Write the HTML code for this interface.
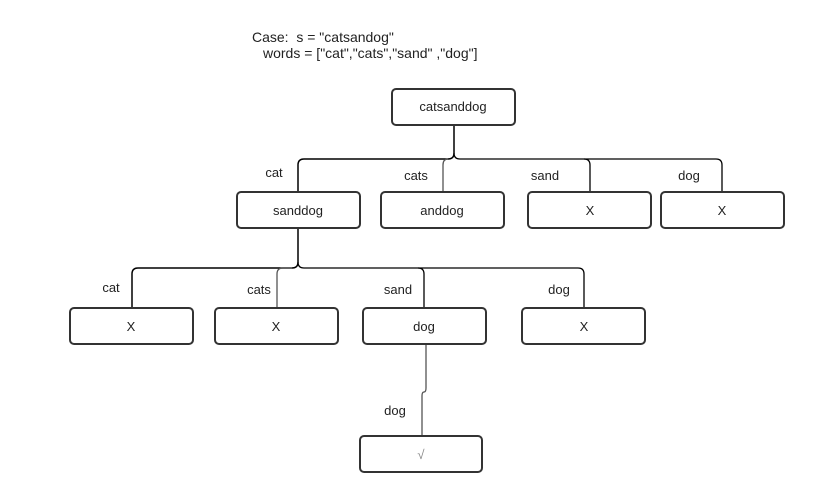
<!DOCTYPE html>
<html><head><style>
body{margin:0;background:#fff;width:835px;height:493px;overflow:hidden;font-family:"Liberation Sans",Arial,sans-serif;}
</style></head><body>
<svg width="835" height="493" xmlns="http://www.w3.org/2000/svg" font-family="Liberation Sans, Arial, sans-serif">
<g fill="none" stroke="#000" stroke-width="1.3">
<path d="M454 125 V153 Q454 159 448 159 H304 Q298 159 298 165 V191" stroke-width="1.5"/>
<path d="M454 153 Q454 159 460 159 H584 Q590 159 590 165 V191"/>
<path d="M448 159 Q443 159 443 165 V191" stroke="#555"/>
<path d="M584 159 H716 Q722 159 722 165 V191"/>
<path d="M298 228 V262 Q298 268 292 268 H138 Q132 268 132 274 V308" stroke-width="1.5"/>
<path d="M298 262 Q298 268 304 268 H418 Q424 268 424 274 V308"/>
<path d="M418 268 H578 Q584 268 584 274 V308"/>
<path d="M292 268 H283 Q277 268 277 274 V308" stroke="#555"/>
<path d="M426 345 V388 Q426 392 424 392 Q422 392 422 396 V436" stroke="#555"/>
</g>
<g fill="#fff" stroke="#333" stroke-width="2">
<rect x="392" y="89" width="123" height="36" rx="4"/>
<rect x="237" y="192" width="123" height="36" rx="4"/>
<rect x="381" y="192" width="123" height="36" rx="4"/>
<rect x="528" y="192" width="123" height="36" rx="4"/>
<rect x="661" y="192" width="123" height="36" rx="4"/>
<rect x="70" y="308" width="123" height="36" rx="4"/>
<rect x="215" y="308" width="123" height="36" rx="4"/>
<rect x="363" y="308" width="123" height="36" rx="4"/>
<rect x="522" y="308" width="123" height="36" rx="4"/>
<rect x="360" y="436" width="122" height="36" rx="4"/>
</g>
<g font-size="13" fill="#222" text-anchor="middle">
<text x="453" y="111">catsanddog</text>
<text x="298" y="215">sanddog</text>
<text x="442" y="215">anddog</text>
<text x="590" y="215">X</text>
<text x="722" y="215">X</text>
<text x="131" y="331">X</text>
<text x="276" y="331">X</text>
<text x="424" y="331">dog</text>
<text x="584" y="331">X</text>
<text x="421" y="459" fill="#888">√</text>
<text x="274" y="177">cat</text>
<text x="416" y="180">cats</text>
<text x="545" y="180">sand</text>
<text x="689" y="180">dog</text>
<text x="111" y="292">cat</text>
<text x="259" y="294">cats</text>
<text x="398" y="294">sand</text>
<text x="559" y="294">dog</text>
<text x="395" y="415">dog</text>
</g>
<g font-size="14" fill="#222">
<text x="252" y="42" xml:space="preserve">Case:  s = "catsandog"</text>
<text x="263" y="58">words = ["cat","cats","sand" ,"dog"]</text>
</g>
</svg>
</body></html>
